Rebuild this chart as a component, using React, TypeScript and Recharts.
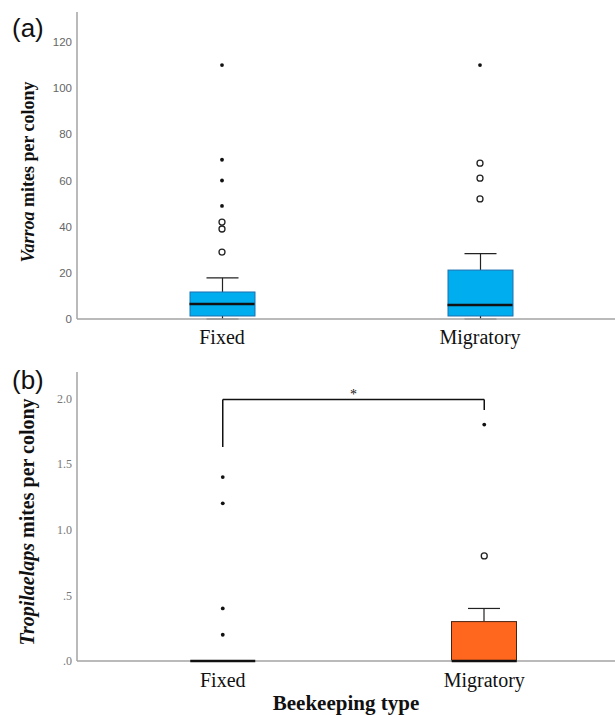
import { ComposedChart, Bar, Scatter, XAxis, YAxis, ReferenceLine } from 'recharts';

const categories = ['Fixed', 'Migratory'];

// (a) Varroa mites per colony
const varroaMin = [0, 0];
const varroaQ1 = [1.3, 1.3];
const varroaMedian = [6.5, 6.1];
const varroaQ3 = [11.7, 21.2];
const varroaMax = [17.8, 28.3];
const varroaExtremes = [[110, 69, 60, 49], [110]];
const varroaOutliers = [[42, 39, 29], [67.5, 61, 52]];
const varroaTicks = [0, 20, 40, 60, 80, 100, 120];

// (b) Tropilaelaps mites per colony
const tropiMin = [0, 0];
const tropiQ1 = [0, 0];
const tropiMedian = [0, 0];
const tropiQ3 = [0, 0.3];
const tropiMax = [0, 0.4];
const tropiExtremes = [[1.4, 1.2, 0.4, 0.2], [1.8]];
const tropiOutliers = [[], [0.8]];
const tropiTicks = [0, 0.5, 1, 1.5, 2];
const bracket = { from: 'Fixed', to: 'Migratory', top: 1.99, fromEnd: 1.63, toEnd: 1.91, mark: '*' };

const BOX_W = 65;
const CAP_W = 32;
const AXIS = '#a3a3a3';
const SERIF = '"Liberation Serif", "Times New Roman", serif';
const SANS = '"Liberation Sans", Arial, sans-serif';

function boxRows(min: number[], q1: number[], med: number[], q3: number[], max: number[]) {
  return categories.map((type, i) => ({
    type,
    lower: [min[i], q1[i]],
    box: [q1[i], q3[i]],
    upper: [q3[i], max[i]],
    median: med[i],
  }));
}

function pointRows(vals: number[][]) {
  return categories.flatMap((type, i) => vals[i].map((value) => ({ type, value })));
}

function whisker(capAt: 'top' | 'bottom') {
  return (props: any) => {
    const { x, y, width, height } = props;
    if (![x, y, width, height].every(Number.isFinite)) return <g />;
    const cx = x + width / 2;
    const top = Math.min(y, y + height);
    const bottom = Math.max(y, y + height);
    const capY = capAt === 'top' ? top : bottom;
    return (
      <g>
        <line x1={cx} x2={cx} y1={top} y2={bottom} stroke="#222" strokeWidth={1.2} />
        <line x1={cx - CAP_W / 2} x2={cx + CAP_W / 2} y1={capY} y2={capY} stroke="#222" strokeWidth={1.2} />
      </g>
    );
  };
}

function boxShape(fill: string, stroke: string) {
  return (props: any) => {
    const { x, y, width, height } = props;
    if (![x, y, width, height].every(Number.isFinite) || Math.abs(height) < 0.5) return <g />;
    return (
      <rect
        x={x}
        y={Math.min(y, y + height)}
        width={width}
        height={Math.abs(height)}
        fill={fill}
        stroke={stroke}
        strokeWidth={1}
      />
    );
  };
}

const medianShape = (props: any) => (
  <line x1={props.cx - BOX_W / 2} x2={props.cx + BOX_W / 2} y1={props.cy} y2={props.cy} stroke="#111" strokeWidth={2.5} />
);
const extremeShape = (props: any) => <circle cx={props.cx} cy={props.cy} r={1.9} fill="#111" />;
const outlierShape = (props: any) => (
  <circle cx={props.cx} cy={props.cy} r={3} fill="#fff" stroke="#222" strokeWidth={1.3} />
);

function yTitle(italic: string, rest: string, size: number) {
  return () => (
    <text
      x={34}
      y={172}
      transform="rotate(-90, 34, 172)"
      textAnchor="middle"
      fontFamily={SERIF}
      fontWeight="bold"
      fontSize={size}
      fill="#111"
    >
      <tspan fontStyle="italic">{italic}</tspan>
      {rest}
    </text>
  );
}

const panelLetter = (top: number): React.CSSProperties => ({
  position: 'absolute',
  left: 12,
  top,
  fontFamily: SANS,
  fontSize: 26,
  lineHeight: 1,
  color: '#111',
});

export default function App() {
  const varroaData = boxRows(varroaMin, varroaQ1, varroaMedian, varroaQ3, varroaMax);
  const tropiData = boxRows(tropiMin, tropiQ1, tropiMedian, tropiQ3, tropiMax);

  return (
    <div style={{ position: 'absolute', left: 0, top: 0, width: 615, height: 715, background: '#fff' }}>
      <div style={panelLetter(15)}>(a)</div>
      <div style={{ position: 'absolute', left: 0, top: 0 }}>
        <ComposedChart
          width={615}
          height={350}
          data={varroaData}
          margin={{ top: 12, right: 0, bottom: 0, left: 0 }}
          barGap={-BOX_W}
        >
          <XAxis
            dataKey="type"
            allowDuplicatedCategory={false}
            height={31}
            padding={{ left: 16, right: 6 }}
            tickLine={false}
            tickSize={0}
            tickMargin={11}
            axisLine={{ stroke: AXIS, strokeWidth: 1.5 }}
            tick={{ fontFamily: SERIF, fontSize: 20, fill: '#111' }}
          />
          <YAxis
            type="number"
            domain={[0, 133]}
            ticks={varroaTicks}
            width={77}
            tickLine={false}
            tickSize={0}
            tickMargin={5}
            axisLine={{ stroke: AXIS, strokeWidth: 1.5 }}
            tick={{ fontFamily: SANS, fontSize: 11.5, fill: '#666' }}
            label={{ content: yTitle('Varroa', ' mites per colony', 18) }}
          />
          <Bar dataKey="lower" barSize={BOX_W} shape={whisker('bottom')} isAnimationActive={false} />
          <Bar dataKey="upper" barSize={BOX_W} shape={whisker('top')} isAnimationActive={false} />
          <Bar dataKey="box" barSize={BOX_W} shape={boxShape('#00aeef', '#1f6fae')} isAnimationActive={false} />
          <Scatter data={varroaData} dataKey="median" shape={medianShape} isAnimationActive={false} />
          <Scatter data={pointRows(varroaOutliers)} dataKey="value" shape={outlierShape} isAnimationActive={false} />
          <Scatter data={pointRows(varroaExtremes)} dataKey="value" shape={extremeShape} isAnimationActive={false} />
        </ComposedChart>
      </div>

      <div style={panelLetter(367)}>(b)</div>
      <div style={{ position: 'absolute', left: 0, top: 350 }}>
        <ComposedChart
          width={615}
          height={365}
          data={tropiData}
          margin={{ top: 22, right: 0, bottom: 0, left: 0 }}
          barGap={-BOX_W}
        >
          <XAxis
            dataKey="type"
            allowDuplicatedCategory={false}
            height={54}
            padding={{ left: 15, right: 0 }}
            tickLine={false}
            tickSize={0}
            tickMargin={12}
            axisLine={{ stroke: AXIS, strokeWidth: 1.5 }}
            tick={{ fontFamily: SERIF, fontSize: 20, fill: '#111' }}
            label={{
              value: 'Beekeeping type',
              position: 'insideBottom',
              offset: 5,
              style: { fontFamily: SERIF, fontWeight: 'bold', fontSize: 21, fill: '#111' },
            }}
          />
          <YAxis
            type="number"
            domain={[0, 2.2]}
            ticks={tropiTicks}
            width={77}
            tickLine={false}
            tickSize={0}
            tickMargin={5}
            axisLine={{ stroke: AXIS, strokeWidth: 1.5 }}
            tick={{ fontFamily: SERIF, fontSize: 12, fill: '#777' }}
            tickFormatter={(v: number) => v.toFixed(1).replace(/^0/, '')}
            label={{ content: yTitle('Tropilaelaps', ' mites per colony', 20) }}
          />
          <Bar dataKey="lower" barSize={BOX_W} shape={whisker('bottom')} isAnimationActive={false} />
          <Bar dataKey="upper" barSize={BOX_W} shape={whisker('top')} isAnimationActive={false} />
          <Bar dataKey="box" barSize={BOX_W} shape={boxShape('#ff671f', '#4a2410')} isAnimationActive={false} />
          <Scatter data={tropiData} dataKey="median" shape={medianShape} isAnimationActive={false} />
          <Scatter data={pointRows(tropiOutliers)} dataKey="value" shape={outlierShape} isAnimationActive={false} />
          <Scatter data={pointRows(tropiExtremes)} dataKey="value" shape={extremeShape} isAnimationActive={false} />
          <ReferenceLine
            segment={[{ x: bracket.from, y: bracket.fromEnd }, { x: bracket.from, y: bracket.top }]}
            stroke="#111"
            strokeWidth={1.5}
          />
          <ReferenceLine
            segment={[{ x: bracket.from, y: bracket.top }, { x: bracket.to, y: bracket.top }]}
            stroke="#111"
            strokeWidth={1.5}
            label={{ value: bracket.mark, position: 'top', offset: 1, fontSize: 14, fill: '#111' }}
          />
          <ReferenceLine
            segment={[{ x: bracket.to, y: bracket.top }, { x: bracket.to, y: bracket.toEnd }]}
            stroke="#111"
            strokeWidth={1.5}
          />
        </ComposedChart>
      </div>
    </div>
  );
}
